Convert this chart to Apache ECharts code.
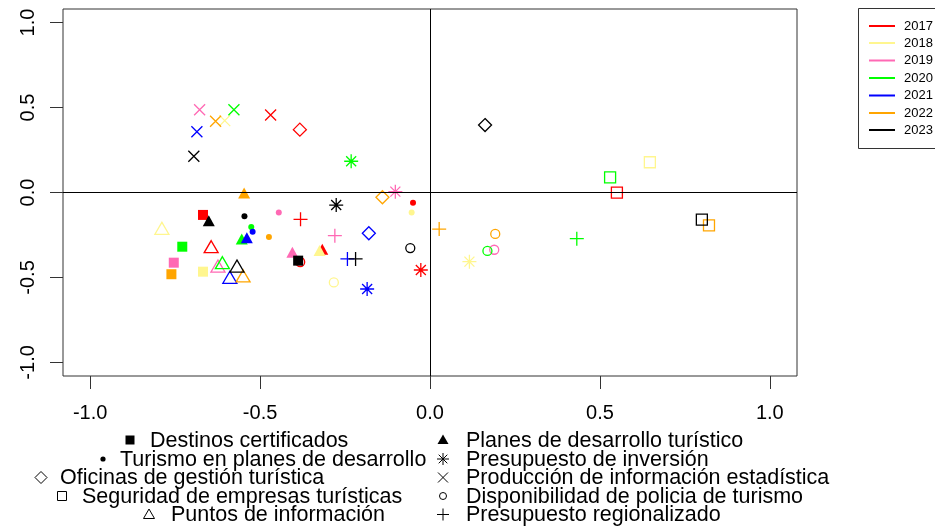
<!DOCTYPE html>
<html><head><meta charset="utf-8">
<script src="https://cdn.jsdelivr.net/npm/echarts@6/dist/echarts.min.js"></script>
<style>html,body{margin:0;padding:0;background:#fff}#c{width:935px;height:529px}</style>
</head><body><div id="c"></div>
<script>
// ---- data ----
const years = ['2017', '2018', '2019', '2020', '2021', '2022', '2023'];
const variables = [
  'Destinos certificados',
  'Turismo en planes de desarrollo',
  'Oficinas de gestión turística',
  'Seguridad de empresas turísticas',
  'Puntos de información',
  'Planes de desarrollo turístico',
  'Presupuesto de inversión',
  'Producción de información estadística',
  'Disponibilidad de policia de turismo',
  'Presupuesto regionalizado'
];
// one [x, y] per year (2017..2023); null = not visible in the chart
const destinosCertificados = [[-0.668,-0.132],[-0.668,-0.466],[-0.754,-0.413],[-0.729,-0.319],null,[-0.761,-0.481],[-0.388,-0.401]];
const turismoEnPlanes = [[-0.050,-0.060],[-0.054,-0.117],[-0.445,-0.117],[-0.526,-0.203],[-0.522,-0.231],[-0.474,-0.262],[-0.546,-0.140]];
const oficinasGestion = [[-0.383,0.370],null,null,null,[-0.180,-0.240],[-0.140,-0.028],[0.162,0.397]];
const seguridadEmpresas = [[0.550,-0.001],[0.647,0.178],null,[0.530,0.089],null,[0.821,-0.193],[0.800,-0.160]];
const puntosInformacion = [[-0.644,-0.319],[-0.789,-0.211],[-0.624,-0.433],[-0.611,-0.413],[-0.589,-0.499],[-0.550,-0.491],[-0.568,-0.433]];
const planesDesarrollo = [[-0.317,-0.334],[-0.325,-0.342],[-0.405,-0.352],[-0.554,-0.274],[-0.539,-0.266],[-0.547,-0.003],[-0.651,-0.166]];
const presupuestoInversion = [[-0.027,-0.456],[0.116,-0.407],[-0.102,0.005],[-0.232,0.184],[-0.185,-0.568],null,[-0.276,-0.074]];
const produccionInformacion = [[-0.469,0.456],[-0.604,0.423],[-0.678,0.487],[-0.577,0.487],[-0.686,0.358],[-0.631,0.419],[-0.695,0.213]];
const disponibilidadPolicia = [[-0.382,-0.409],[-0.283,-0.529],[0.189,-0.337],[0.169,-0.344],null,[0.192,-0.244],[-0.058,-0.327]];
const presupuestoRegionalizado = [[-0.381,-0.158],null,[-0.280,-0.254],[0.432,-0.272],[-0.243,-0.391],[0.027,-0.215],[-0.219,-0.391]];
const xTicks = [-1, -0.5, 0, 0.5, 1];
const yTicks = [-1, -0.5, 0, 0.5, 1];

// ---- styles ----
const yearColors = ['#FF0000', '#FFF68F', '#FF69B4', '#00FF00', '#0000FF', '#FFA500', '#000000'];
const varData = [destinosCertificados, turismoEnPlanes, oficinasGestion, seguridadEmpresas, puntosInformacion,
  planesDesarrollo, presupuestoInversion, produccionInformacion, disponibilidadPolicia, presupuestoRegionalizado];
const PATH_X = 'path://M0,0L11,11M11,0L0,11';
const PATH_PLUS = 'path://M7,0L7,14M0,7L14,7';
const PATH_AST = 'path://M7,0L7,14M0,7L14,7M2,2L12,12M12,2L2,12';
// kind: 'fill' | 'open' | 'line'
const symbolSpec = [
  {symbol: 'rect', size: 10, kind: 'fill'},
  {symbol: 'circle', size: 6, kind: 'fill'},
  {symbol: 'diamond', size: [13, 13], kind: 'open'},
  {symbol: 'rect', size: 11, kind: 'open'},
  {symbol: 'triangle', size: [14, 12], kind: 'open'},
  {symbol: 'triangle', size: [12, 11], kind: 'fill'},
  {symbol: PATH_AST, size: 14, kind: 'line'},
  {symbol: PATH_X, size: 11, kind: 'line'},
  {symbol: 'circle', size: 9, kind: 'open'},
  {symbol: PATH_PLUS, size: 14, kind: 'line'}
];

function itemStyleFor(kind, c) {
  if (kind === 'fill') return {color: c, borderWidth: 0, opacity: 1};
  return {color: 'none', borderColor: c, borderWidth: 1.3, opacity: 1};
}

const series = years.map((yr, i) => {
  const data = [];
  varData.forEach((arr, j) => {
    const p = arr[i];
    if (!p) return;
    const sp = symbolSpec[j];
    data.push({value: p, symbol: sp.symbol, symbolSize: sp.size, itemStyle: itemStyleFor(sp.kind, yearColors[i])});
  });
  return {type: 'scatter', name: yr, data, silent: true, z: 3, zlevel: 0, emphasis: {disabled: true}};
});
series.push({
  type: 'scatter', data: [], silent: true, z: 2,
  markLine: {
    silent: true, symbol: 'none', animation: false,
    label: {show: false},
    lineStyle: {color: '#000', type: 'solid', width: 1},
    data: [{xAxis: 0}, {yAxis: 0}]
  }
});

// ---- legends (graphic) ----
const graphic = [];
// year legend
graphic.push({type: 'rect', shape: {x: 858.5, y: 8.5, width: 120, height: 140}, style: {fill: '#fff', stroke: '#333', lineWidth: 1}, z: 10});
const yearRowY = [26, 43, 60.5, 78, 95.5, 113, 130];
years.forEach((yr, i) => {
  graphic.push({type: 'line', shape: {x1: 869, y1: yearRowY[i], x2: 895, y2: yearRowY[i]}, style: {stroke: yearColors[i], lineWidth: 2}, z: 11});
  graphic.push({type: 'text', x: 904, y: yearRowY[i], style: {text: yr, font: '13px "Liberation Sans", Arial, sans-serif', fill: '#000', verticalAlign: 'middle', textAlign: 'left'}, z: 11});
});
// shape legend
const legRowY = [441, 460, 478.5, 497, 515.5];
const legPos = [
  [130, 150], [103, 120], [41, 60], [62, 82], [149, 171],
  [443, 466], [443, 466], [443, 466], [443, 466], [443, 466]
];
function seg(x1, y1, x2, y2) {
  return {type: 'line', shape: {x1, y1, x2, y2}, style: {stroke: '#000', lineWidth: 1}, z: 11};
}
function legendGlyph(j, cx, cy) {
  const st = {stroke: '#000', lineWidth: 1, fill: 'none'};
  switch (j) {
    case 0: return [{type: 'rect', shape: {x: cx - 4.5, y: cy - 4.5, width: 9, height: 9}, style: {fill: '#000'}, z: 11}];
    case 1: return [{type: 'circle', shape: {cx, cy, r: 2.6}, style: {fill: '#000'}, z: 11}];
    case 2: return [{type: 'polygon', shape: {points: [[cx, cy - 6], [cx + 6, cy], [cx, cy + 6], [cx - 6, cy]]}, style: st, z: 11}];
    case 3: return [{type: 'rect', shape: {x: cx - 4.5, y: cy - 4.5, width: 9, height: 9}, style: st, z: 11}];
    case 4: return [{type: 'polygon', shape: {points: [[cx, cy - 5.5], [cx + 5.5, cy + 4], [cx - 5.5, cy + 4]]}, style: st, z: 11}];
    case 5: return [{type: 'polygon', shape: {points: [[cx, cy - 5.5], [cx + 5.5, cy + 4], [cx - 5.5, cy + 4]]}, style: {fill: '#000'}, z: 11}];
    case 6: return [seg(cx, cy - 6, cx, cy + 6), seg(cx - 6, cy, cx + 6, cy), seg(cx - 4.3, cy - 4.3, cx + 4.3, cy + 4.3), seg(cx + 4.3, cy - 4.3, cx - 4.3, cy + 4.3)];
    case 7: return [seg(cx - 5, cy - 5, cx + 5, cy + 5), seg(cx + 5, cy - 5, cx - 5, cy + 5)];
    case 8: return [{type: 'circle', shape: {cx, cy, r: 3.5}, style: st, z: 11}];
    default: return [seg(cx, cy - 6, cx, cy + 6), seg(cx - 6, cy, cx + 6, cy)];
  }
}
variables.forEach((name, j) => {
  const row = j % 5;
  const cy = legRowY[row];
  legendGlyph(j, legPos[j][0], cy - 1).forEach(g => graphic.push(g));
  graphic.push({type: 'text', x: legPos[j][1], y: cy, style: {text: name, font: '21.5px "Liberation Sans", Arial, sans-serif', fill: '#000', verticalAlign: 'middle', textAlign: 'left'}, z: 11});
});

const axisFont = {fontFamily: '"Liberation Sans", Arial, sans-serif', fontSize: 20, color: '#000'};
const fmt = v => v.toFixed(1);

const chart = echarts.init(document.getElementById('c'), null, {renderer: 'canvas'});
chart.setOption({
  animation: false,
  backgroundColor: '#fff',
  grid: {left: 63, right: 138, top: 9, bottom: 153, show: true, borderColor: '#333', borderWidth: 1, backgroundColor: 'transparent'},
  xAxis: {
    type: 'value', min: -1.08, max: 1.08,
    splitLine: {show: false},
    axisLine: {show: false, onZero: false},
    axisTick: {show: true, inside: false, length: 13, customValues: xTicks, lineStyle: {color: '#333', width: 1}},
    axisLabel: {show: true, customValues: xTicks, margin: 27, formatter: fmt, ...axisFont}
  },
  yAxis: {
    type: 'value', min: -1.08, max: 1.08,
    splitLine: {show: false},
    axisLine: {show: false, onZero: false},
    axisTick: {show: true, inside: false, length: 13, customValues: yTicks, lineStyle: {color: '#333', width: 1}},
    axisLabel: {show: true, customValues: yTicks, rotate: 90, margin: 25, formatter: fmt, ...axisFont}
  },
  series,
  graphic
});
</script>
</body></html>
